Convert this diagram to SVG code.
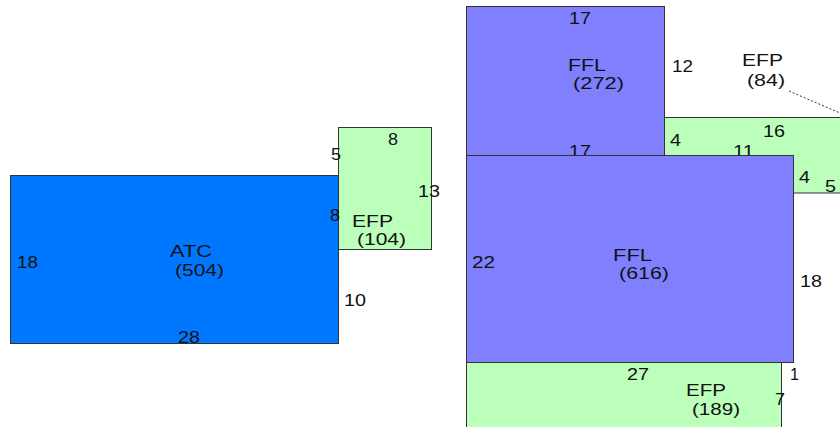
<svg xmlns="http://www.w3.org/2000/svg" width="840" height="427" viewBox="0 0 840 427">
<style>
.atc{fill:#0077ff;stroke:#333;stroke-width:1}
.ffl{fill:#8080ff;stroke:#333;stroke-width:1}
.efp{fill:#bbffbb;stroke:#333;stroke-width:1}
text{font-family:"Liberation Sans",Arial,sans-serif;font-size:16.5px;fill:#111}
.conn{stroke:#333;stroke-width:1;stroke-dasharray:2,2;fill:none}
</style>
<rect width="840" height="427" fill="#ffffff"/>
<g id="atc504">
<rect class="atc" x="10.5" y="175.5" width="328" height="168"/>
<text x="170" y="257" textLength="42" lengthAdjust="spacingAndGlyphs">ATC</text>
<text x="175" y="276" textLength="49" lengthAdjust="spacingAndGlyphs">(504)</text>
<text x="17" y="268" textLength="21" lengthAdjust="spacingAndGlyphs">18</text>
<text x="178" y="343" textLength="22" lengthAdjust="spacingAndGlyphs">28</text>
<text x="344" y="306" textLength="22" lengthAdjust="spacingAndGlyphs">10</text>
</g>
<g id="efp104">
<rect class="efp" x="338.5" y="127.5" width="93" height="122"/>
<text x="331" y="160" textLength="10" lengthAdjust="spacingAndGlyphs">5</text>
<text x="388" y="145" textLength="10" lengthAdjust="spacingAndGlyphs">8</text>
<text x="418" y="197" textLength="22" lengthAdjust="spacingAndGlyphs">13</text>
<text x="330" y="221" textLength="10" lengthAdjust="spacingAndGlyphs">8</text>
<text x="352" y="227" textLength="41" lengthAdjust="spacingAndGlyphs">EFP</text>
<text x="357" y="245" textLength="49" lengthAdjust="spacingAndGlyphs">(104)</text>
</g>
<g id="ffl272">
<rect class="ffl" x="466.5" y="6.5" width="198" height="160"/>
<text x="569" y="24" textLength="22" lengthAdjust="spacingAndGlyphs">17</text>
<text x="568" y="71" textLength="38" lengthAdjust="spacingAndGlyphs">FFL</text>
<text x="573" y="89" textLength="51" lengthAdjust="spacingAndGlyphs">(272)</text>
<text x="672" y="72" textLength="21" lengthAdjust="spacingAndGlyphs">12</text>
<text x="569" y="157" textLength="22" lengthAdjust="spacingAndGlyphs">17</text>
</g>
<g id="efp84">
<rect class="efp" x="664.5" y="117.5" width="190" height="75.5"/>
<text x="742" y="66" textLength="41" lengthAdjust="spacingAndGlyphs">EFP</text>
<text x="747" y="86" textLength="38" lengthAdjust="spacingAndGlyphs">(84)</text>
<text x="763" y="137" textLength="22" lengthAdjust="spacingAndGlyphs">16</text>
<text x="670" y="146" textLength="11" lengthAdjust="spacingAndGlyphs">4</text>
<text x="733" y="157" textLength="21" lengthAdjust="spacingAndGlyphs">11</text>
<text x="799" y="183" textLength="11" lengthAdjust="spacingAndGlyphs">4</text>
<text x="825" y="192" textLength="11" lengthAdjust="spacingAndGlyphs">5</text>
</g>
<g id="ffl616">
<rect class="ffl" x="466.5" y="155.5" width="327" height="207"/>
<text x="472" y="268" textLength="23" lengthAdjust="spacingAndGlyphs">22</text>
<text x="613" y="261" textLength="39" lengthAdjust="spacingAndGlyphs">FFL</text>
<text x="619" y="279" textLength="50" lengthAdjust="spacingAndGlyphs">(616)</text>
<text x="800" y="287" textLength="22" lengthAdjust="spacingAndGlyphs">18</text>
</g>
<g id="efp189">
<rect class="efp" x="466.5" y="362.5" width="315" height="70"/>
<text x="627" y="380" textLength="22" lengthAdjust="spacingAndGlyphs">27</text>
<text x="686" y="396" textLength="40" lengthAdjust="spacingAndGlyphs">EFP</text>
<text x="692" y="415" textLength="48" lengthAdjust="spacingAndGlyphs">(189)</text>
<text x="790" y="380" textLength="9" lengthAdjust="spacingAndGlyphs">1</text>
<text x="775" y="405" textLength="10" lengthAdjust="spacingAndGlyphs">7</text>
</g>
<g id="connectors">
<line class="conn" x1="789" y1="91" x2="840" y2="113"/>
</g>
</svg>
